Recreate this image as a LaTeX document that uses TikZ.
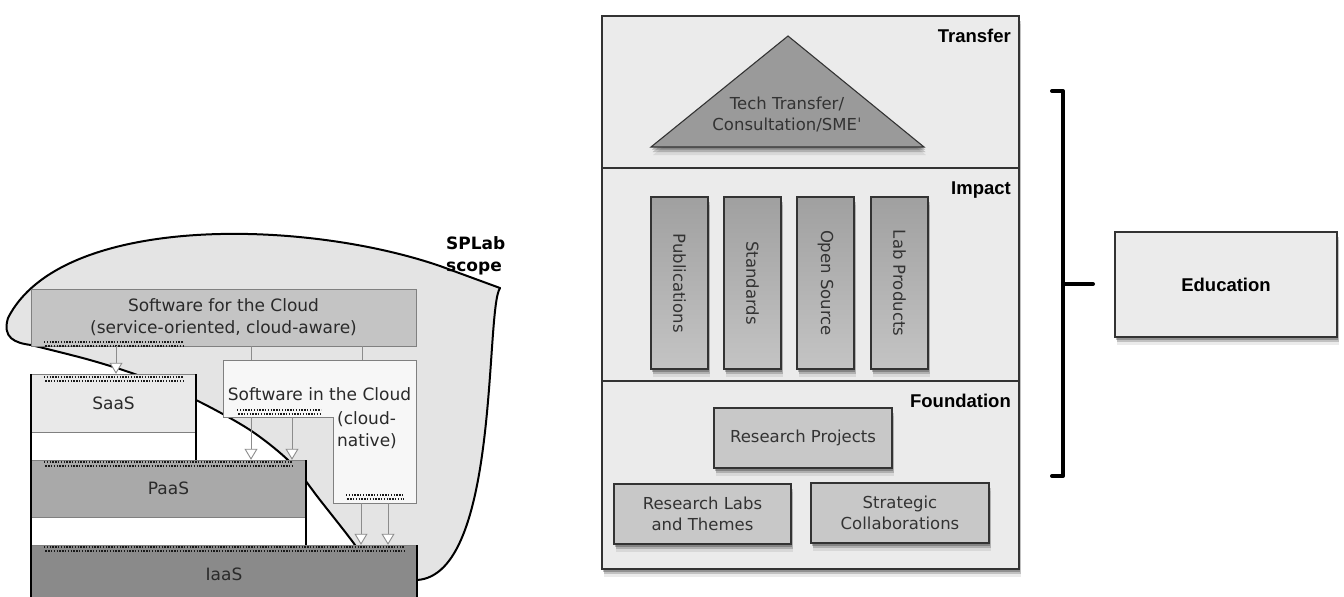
\documentclass[tikz,border=0pt]{standalone}
\usepackage{fontspec}
\setmainfont{DejaVu Sans}
\newfontfamily\arialfont{Liberation Sans}
\usetikzlibrary{arrows.meta,shadows}
\definecolor{blobc}{HTML}{E4E4E4}
\definecolor{sfcc}{HTML}{C4C4C4}
\definecolor{sicc}{HTML}{F7F7F7}
\definecolor{saasc}{HTML}{E9E9E9}
\definecolor{paasc}{HTML}{A9A9A9}
\definecolor{iaasc}{HTML}{8A8A8A}
\definecolor{panelc}{HTML}{EBEBEB}
\definecolor{tric}{HTML}{9A9A9A}
\definecolor{boxc}{HTML}{C8C8C8}
\definecolor{pilltop}{HTML}{A0A0A0}
\definecolor{pillbot}{HTML}{C4C4C4}
\definecolor{edgec}{HTML}{333333}
\definecolor{txtc}{HTML}{2A2A2A}
\begin{document}
\begin{tikzpicture}[x=1pt,y=-1pt,
  lbl/.style={font=\fontsize{17}{22}\selectfont, text=txtc, align=center, inner sep=0pt},
  bold/.style={font=\arialfont\bfseries\fontsize{18.5}{22}\selectfont, text=black, inner sep=0pt},
  stackbox/.style={draw=gray, inner sep=0pt, lbl},
  thinline/.style={draw=gray!90, line width=0.9pt},
  openarrow/.style={thinline, -{Triangle[width=13pt,length=11pt,fill=white]}},
  dotline/.style={line width=2pt, dash pattern=on 1.4pt off 1.4pt, draw=black!90},
  shad/.style={drop shadow={shadow xshift=1pt,shadow yshift=-2.5pt,opacity=0.25,fill=black},
               drop shadow={shadow xshift=1.5pt,shadow yshift=-5pt,opacity=0.18,fill=black},
               drop shadow={shadow xshift=2pt,shadow yshift=-8pt,opacity=0.08,fill=black}},
  rbox/.style={draw=edgec, line width=1.1pt, fill=boxc, shad, inner sep=0pt,
               font=\fontsize{16.5}{21}\selectfont, text=edgec, align=center},
  pillar/.style={draw=edgec, line width=1.1pt, top color=pilltop, bottom color=pillbot,
                 shad, inner sep=0pt, minimum width=57pt, minimum height=172pt},
  pilltext/.style={rotate=-90, font=\fontsize{16.5}{21}\selectfont, text=edgec, inner sep=0pt}
]
\useasboundingbox (0,0) rectangle (1344,597);

% ---------------- left: SPLab scope ----------------
\path[fill=blobc] plot[smooth] coordinates {(31,345) (90,360) (140,376) (196,400) (250,430) (290,462) (320,500) (355,545)}
   -- (390,600) -- (417,580) .. controls (500,575) and (485,310) .. (500,288)
   -- (440,266) .. controls (300,218) and (60,215) .. (8,318)
   .. controls (2,338) and (15,343) .. (31,345) -- cycle;
\draw[line width=2pt, line join=round] plot[smooth] coordinates {(31,345) (90,360) (140,376) (196,400) (250,430) (290,462) (320,500) (355,545) (362,560)};
\draw[line width=2pt, line join=round] (417,580) .. controls (500,575) and (485,310) .. (500,288)
   -- (440,266) .. controls (300,218) and (60,215) .. (8,318)
   .. controls (2,338) and (15,343) .. (31,345);
\node[font=\bfseries\fontsize{17}{22}\selectfont, align=left, inner sep=0pt, anchor=west] (scope) at (446,256) {SPLab\\scope};

% Software for the Cloud
\node[stackbox, fill=sfcc, minimum width=385pt, minimum height=57pt] (sfc) at (223.5,317.5)
  {Software for the Cloud\\(service-oriented, cloud-aware)};

% Software in the Cloud (L-shape)
\draw[draw=gray, fill=sicc, line width=0.9pt] (223,360) -- (416,360) -- (416,503) -- (333,503) -- (333,417) -- (223,417) -- cycle;
\node[lbl] (sic) at (319.5,394) {Software in the Cloud};
\node[lbl, align=left] (sicb) at (367,430) {(cloud-\\native)};

% stack: SaaS / PaaS / IaaS
\fill[white] (31,374) rectangle (196,460);
\fill[white] (31,460) rectangle (306,545);
\node[stackbox, fill=saasc, minimum width=165pt, minimum height=58pt] (saas) at (113.5,403) {SaaS};
\node[stackbox, fill=paasc, minimum width=275pt, minimum height=57pt] (paas) at (168.5,488.5) {PaaS};
\node[stackbox, fill=iaasc, minimum width=386pt, minimum height=58pt] (iaas) at (224,574) {IaaS};
\draw[line width=2pt] (31,374) -- (31,600);
\draw[line width=2pt] (196,374) -- (196,460);
\draw[line width=2pt] (306,460) -- (306,545);
\draw[line width=2pt] (417,545) -- (417,600);

% dotted strips
\foreach \xa/\xb/\ya in {44/183/340, 44/183/375, 237/321/408, 44/293/460, 346/404/493, 44/404/545}{
  \draw[dotline] (\xa,\ya+1.5) -- (\xb,\ya+1.5);
  \draw[dotline] (\xa+1.4,\ya+5.5) -- (\xb,\ya+5.5);
}

% connectors
\coordinate (c1) at (251,360); \coordinate (c2) at (362,360);
\draw[thinline] (sfc.south -| c1) -- (c1);
\draw[thinline] (sfc.south -| c2) -- (c2);
\coordinate (a1) at (116,346);
\draw[openarrow] (a1) -- (a1 |- saas.north);
\coordinate (a2) at (251,417); \coordinate (a3) at (292,417);
\draw[openarrow] (a2) -- (a2 |- paas.north);
\draw[openarrow] (a3) -- (a3 |- paas.north);
\coordinate (a4) at (361,503); \coordinate (a5) at (388,503);
\draw[openarrow] (a4) -- (a4 |- iaas.north);
\draw[openarrow] (a5) -- (a5 |- iaas.north);

% ---------------- right: panel ----------------
\node[draw=edgec, line width=1.2pt, fill=panelc, shad, minimum width=417pt, minimum height=553pt, inner sep=0pt] (panel) at (810.5,292.5) {};
\coordinate (d1) at (0,168); \coordinate (d2) at (0,381);
\draw[draw=edgec, line width=1.2pt] (panel.west |- d1) -- (panel.east |- d1);
\draw[draw=edgec, line width=1.2pt] (panel.west |- d2) -- (panel.east |- d2);
\node[bold, anchor=base east] (ltransfer) at (1011,42) {Transfer};
\node[bold, anchor=base east] (limpact) at (1011,194) {Impact};
\node[bold, anchor=base east] (lfound) at (1011,407) {Foundation};

% triangle
\coordinate (tA) at (788,36); \coordinate (tB) at (924,147); \coordinate (tC) at (651,147);
\filldraw[fill=tric, draw=edgec, line width=1.1pt, line join=miter, shad] (tA) -- (tB) -- (tC) -- cycle;
\node[font=\fontsize{16.5}{21}\selectfont, text=edgec, align=center, inner sep=0pt] (ttext) at (787,114.5) {Tech Transfer/\\Consultation/SMEˈ};

% pillars
\node[pillar] (p1) at (679.5,283) {};
\node[pillar] (p2) at (752.5,283) {};
\node[pillar] (p3) at (825.5,283) {};
\node[pillar] (p4) at (899.5,283) {};
\node[pilltext] at (p1) {Publications};
\node[pilltext] at (p2) {Standards};
\node[pilltext] at (p3) {Open Source};
\node[pilltext] at (p4) {Lab Products};

% foundation boxes
\node[rbox, minimum width=178pt, minimum height=60pt] (rp) at (803,438) {Research Projects};
\node[rbox, minimum width=177pt, minimum height=60pt] (rl) at (702.5,514) {Research Labs\\and Themes};
\node[rbox, minimum width=178pt, minimum height=60pt] (sc) at (900,513) {Strategic\\Collaborations};

% bracket and Education
\coordinate (bt) at (1052,91); \coordinate (bb) at (1052,476); \coordinate (bm) at (1063,284);
\node[draw=edgec, line width=1.1pt, fill=panelc, shad, minimum width=222pt, minimum height=105pt, inner sep=0pt,
      font=\arialfont\bfseries\fontsize{18.5}{22}\selectfont] (edu) at (1226,284.5) {Education};
\draw[line width=4pt, line join=round, line cap=round] (bt) -- (bt -| bm) -- (bb -| bm) -- (bb);
\draw[line width=4pt, line cap=round] (bm) -- (1093,284);
\end{tikzpicture}
\end{document}
